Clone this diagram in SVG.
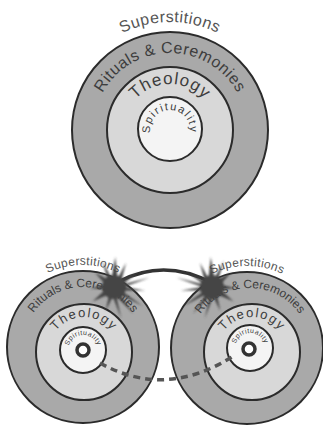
<svg xmlns="http://www.w3.org/2000/svg" xmlns:xlink="http://www.w3.org/1999/xlink" width="323" height="427" viewBox="0 0 323 427">
<style>
.outer{fill:#a9a9a9;stroke:#2b2b2b;stroke-width:2}
.mid{fill:#d8d8d8;stroke:#2b2b2b;stroke-width:2}
.inner{fill:#f4f4f4;stroke:#2b2b2b;stroke-width:2}
.lbl{font-family:"Liberation Sans",Arial,sans-serif;fill:#3d3d3d}
.sup{fill:#555}
.star{fill:#444}
</style>
<defs>
<filter id="soft" x="-30%" y="-30%" width="160%" height="160%"><feGaussianBlur stdDeviation="0.8"/></filter>
<path id="tSup" d="M62,130 A108,108 0 0 1 278,130"/>
<path id="tRit" d="M93,130 A77,77 0 0 1 247,130"/>
<path id="tThe" d="M124,130 A46,46 0 0 1 216,130"/>
<path id="tSpi" d="M170,150 A20,20 0 0 1 150,130 A20,20 0 0 1 190,130 A20,20 0 0 1 170,150"/>
<path id="lSup" d="M1,347 A82,82 0 0 1 165,347"/>
<path id="lRit" d="M23,347 A60,60 0 0 1 143,347"/>
<path id="lThe" d="M49,352 A35,35 0 0 1 119,352"/>
<path id="lSpi" d="M83,365 A15,15 0 0 1 68,350 A15,15 0 0 1 98,350 A15,15 0 0 1 83,365"/>
<path id="rSup" d="M165,348 A82,82 0 0 1 329,348"/>
<path id="rRit" d="M190,348 A60,60 0 0 1 310,348"/>
<path id="rThe" d="M217,352 A35,35 0 0 1 287,352"/>
<path id="rSpi" d="M250,363 A15,15 0 0 1 235,348 A15,15 0 0 1 265,348 A15,15 0 0 1 250,363"/>
<polygon id="burst" points="26,3 6,3 24,16 5,6 16,22 2,8 6,26 -1,8 -7,20 -4,6 -18,12 -7,2 -20,1 -7,-2 -16,-12 -5,-6 -10,-22 -2,-7 1,-25 3,-7 10,-20 6,-5 20,-12 7,-2 30,-8 8,0"/>
</defs>

<g id="top-diagram">
  <g id="top-rituals"><circle class="outer" cx="170" cy="130" r="98"/></g>
  <g id="top-theology"><circle class="mid" cx="170" cy="130" r="63"/></g>
  <g id="top-spirituality"><circle class="inner" cx="170" cy="129" r="32"/></g>
  <text class="lbl sup" font-size="16" letter-spacing="0.5"><textPath href="#tSup" startOffset="50%" text-anchor="middle">Superstitions</textPath></text>
  <text class="lbl" font-size="16" letter-spacing="0.5"><textPath href="#tRit" startOffset="50%" text-anchor="middle">Rituals &amp; Ceremonies</textPath></text>
  <text class="lbl" font-size="17" letter-spacing="1"><textPath href="#tThe" startOffset="50%" text-anchor="middle">Theology</textPath></text>
  <text class="lbl" font-size="11" letter-spacing="1.5"><textPath href="#tSpi" startOffset="50%" text-anchor="middle">Spirituality</textPath></text>
</g>

<g id="left-diagram">
  <g id="left-rituals"><circle class="outer" cx="83" cy="347" r="76"/></g>
  <g id="left-theology"><circle class="mid" cx="84" cy="352" r="48"/></g>
  <g id="left-spirituality"><circle class="inner" cx="83" cy="350" r="23"/></g>
  <g id="left-core"><circle cx="83" cy="350" r="6" fill="#fff" stroke="#333" stroke-width="3.5"/></g>
  <text class="lbl sup" font-size="12" letter-spacing="0.3"><textPath href="#lSup" startOffset="50%" text-anchor="middle">Superstitions</textPath></text>
  <text class="lbl" font-size="12"><textPath href="#lRit" startOffset="50%" text-anchor="middle">Rituals &amp; Ceremonies</textPath></text>
  <text class="lbl" font-size="13" letter-spacing="1.5"><textPath href="#lThe" startOffset="50%" text-anchor="middle">Theology</textPath></text>
  <text class="lbl" font-size="7" letter-spacing="0.5"><textPath href="#lSpi" startOffset="50%" text-anchor="middle">Spirituality</textPath></text>
</g>

<g id="right-diagram">
  <g id="right-rituals"><circle class="outer" cx="247" cy="348" r="76"/></g>
  <g id="right-theology"><circle class="mid" cx="252" cy="352" r="48"/></g>
  <g id="right-spirituality"><circle class="inner" cx="250" cy="348" r="23"/></g>
  <g id="right-core"><circle cx="249" cy="349" r="6" fill="#fff" stroke="#333" stroke-width="3.5"/></g>
  <text class="lbl sup" font-size="12" letter-spacing="0.3"><textPath href="#rSup" startOffset="50%" text-anchor="middle">Superstitions</textPath></text>
  <text class="lbl" font-size="12"><textPath href="#rRit" startOffset="50%" text-anchor="middle">Rituals &amp; Ceremonies</textPath></text>
  <text class="lbl" font-size="13" letter-spacing="1.5"><textPath href="#rThe" startOffset="50%" text-anchor="middle">Theology</textPath></text>
  <text class="lbl" font-size="7" letter-spacing="0.5"><textPath href="#rSpi" startOffset="50%" text-anchor="middle">Spirituality</textPath></text>
</g>

<g id="connectors">
  <path d="M120,281 Q165,258 212,283" fill="none" stroke="#333" stroke-width="3.5"/>
  <path d="M100,363 Q166,400 235,355" fill="none" stroke="#555" stroke-width="3.5" stroke-dasharray="7 5"/>
  <g filter="url(#soft)">
    <g transform="translate(114,287) scale(1.2)"><circle r="10" class="star"/><use href="#burst" class="star"/></g>
    <g transform="translate(212,287) scale(-1.2,1.2)"><circle r="10" class="star"/><use href="#burst" class="star"/></g>
  </g>
</g>
</svg>
